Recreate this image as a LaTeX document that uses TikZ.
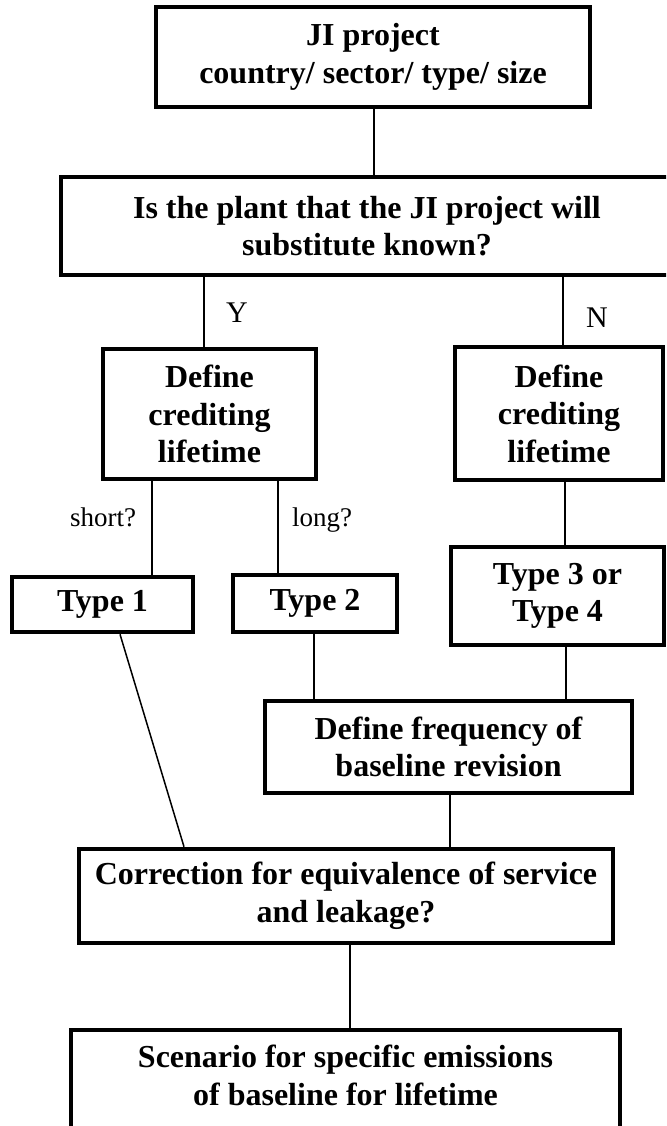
\documentclass[tikz,border=0pt]{standalone}
\usepackage{fontspec}
\setmainfont{Liberation Serif}
\usetikzlibrary{calc}
\begin{document}
\begin{tikzpicture}[x=1pt,y=-1pt,
  box/.style={draw,line width=4.5pt,inner sep=0pt,align=center,fill=white,
    font=\fontsize{32}{37.5}\selectfont\bfseries},
  conn/.style={line width=1.5pt},
  lbl/.style={inner sep=0pt,font=\fontsize{30}{34}\selectfont},
  slbl/.style={inner sep=0pt,font=\fontsize{27}{31}\selectfont}]
\clip (0,0) rectangle (666,1126);
\fill[white] (0,0) rectangle (666,1126);
% boxes
\node[box,minimum width=434pt,minimum height=100pt] (top) at (373,57) {JI project\\country/ sector/ type/ size};
\node[box,minimum width=612pt,minimum height=98pt] (q) at (367,226) {Is the plant that the JI project will\\substitute known?};
\node[box,minimum width=213pt,minimum height=130pt] (defL) at (209.5,414) {Define\\crediting\\lifetime};
\node[box,minimum width=208pt,minimum height=133pt] (defR) at (559,413.5) {Define\\crediting\\lifetime};
\node[box,minimum width=181pt,minimum height=55pt] (t1) at (102.5,604.5) {Type 1};
\node[box,minimum width=164pt,minimum height=57pt] (t2) at (315,603.5) {Type 2};
\node[box,minimum width=213pt,minimum height=98pt] (t34) at (557.5,596) {Type 3 or\\Type 4};
\node[box,minimum width=367pt,minimum height=92pt] (freq) at (448.5,747) {Define frequency of\\baseline revision};
\node[box,minimum width=534pt,minimum height=94pt] (corr) at (346,896) {Correction for equivalence of service\\and leakage?};
\node[box,minimum width=549pt,minimum height=128pt] (scen) at (345.5,1094) {Scenario for specific emissions\\of baseline for lifetime\\\mbox{}};
% connector anchor points
\coordinate (a0) at ([xshift=1pt]top.south);
\coordinate (aY) at ([xshift=-5.5pt]defL.north);
\coordinate (aN) at ([xshift=4pt]defR.north);
\coordinate (aS) at ([xshift=-57.5pt]defL.south);
\coordinate (aL) at ([xshift=68.5pt]defL.south);
\coordinate (aR) at ([xshift=6pt]defR.south);
\coordinate (b1) at ([xshift=17.5pt]t1.south);
\coordinate (c1) at ([xshift=-162pt]corr.north);
\coordinate (b2) at ([xshift=-1pt]t2.south);
\coordinate (b3) at ([xshift=8.5pt]t34.south);
\coordinate (bf) at ([xshift=1.5pt]freq.south);
\coordinate (bc) at ([xshift=4pt]corr.south);
% connectors
\draw[conn] (a0) -- (a0 |- q.north);
\draw[conn] (aY |- q.south) -- (aY);
\draw[conn] (aN |- q.south) -- (aN);
\draw[conn] (aS) -- (aS |- t1.north);
\draw[conn] (aL) -- (aL |- t2.north);
\draw[conn] (aR) -- (aR |- t34.north);
\draw[conn] (b1) -- (c1);
\draw[conn] (b2) -- (b2 |- freq.north);
\draw[conn] (b3) -- (b3 |- freq.north);
\draw[conn] (bf) -- (bf |- corr.north);
\draw[conn] (bc) -- (bc |- scen.north);
% labels
\node[lbl] (lY) at (237,313) {Y};
\node[lbl] (lN) at (597,318) {N};
\node[slbl] (lshort) at (103,517) {short?};
\node[slbl] (llong) at (322,520) {long?};
\end{tikzpicture}
\end{document}
